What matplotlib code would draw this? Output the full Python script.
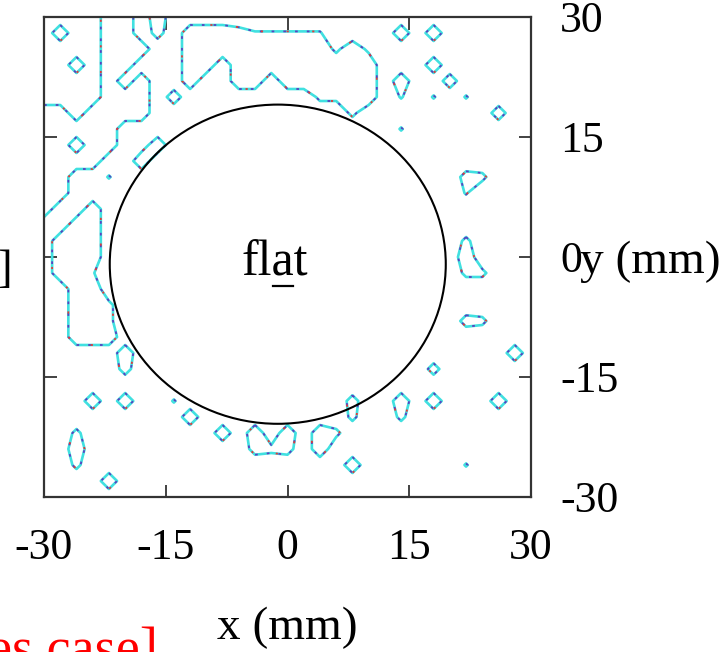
import numpy as np
import matplotlib
matplotlib.use("Agg")
import matplotlib.pyplot as plt
from matplotlib.patches import Ellipse
from matplotlib.lines import Line2D

plt.rcParams['font.family'] = ['Liberation Serif', 'DejaVu Serif']

# ---- data -------------------------------------------------------------
TICKS = [-30, -15, 0, 15, 30]
TICK_LABELS = ['-30', '-15', '0', '15', '30']
GRID_X = np.arange(-30, 31, 2)        # mm, columns
GRID_Y = np.arange(30, -31, -2)       # mm, rows (top row first)
LEVEL = 4.5
# field, one string per row (top = y 30 mm), '.' = 0
FIELD_ROWS = [
    "....99.9",
    ".9..99.7.999755555....9.9",
    "....999..999999999393",
    "..9.99...99.999999999...9",
    "....9.9..9..99.999999.9..8",
    "....999.8........6699.5.5.5",
    "99.9999............6........8",
    "99999.................5",
    "99.99.19",
    "9999..9",
    "99..5.....................76",
    "99........................5",
    "9..9",
    "..99",
    ".999......................6",
    ".999......................9",
    ".995......................66",
    "..99",
    "..996",
    "..996.....................76",
    "..999",
    ".....9.......................9",
    ".....7..................7",
    "",
    "...9.9..5..........7..9.9...9",
    ".........9.........6..6",
    "..6........9.9.9.96",
    "..9..........767.9",
    "..6................9......5",
    "....9",
    "",
]
CIRCLE_CENTER = (-1.2, -0.9)   # mm
CIRCLE_W = 41.4                # mm
CIRCLE_H = 39.9                # mm
X_LABEL = "x (mm)"
Y_LABEL = "y (mm)"
INNER_TEXT = "flat"
LEFT_TEXT = "]"
RED_TEXT = "es case]"

# ---- build field ------------------------------------------------------
Z = np.array([[0 if c == '.' else int(c) for c in r.ljust(31, '.')[:31]]
              for r in FIELD_ROWS], dtype=float)
X, Y = np.meshgrid(GRID_X, GRID_Y)

W, H = 723, 652
fig = plt.figure(figsize=(W / 100, H / 100), dpi=100)
ax = fig.add_axes([44 / W, 1 - 497 / H, (531 - 44) / W, (497 - 17) / H])

ax.contour(X, Y, Z, levels=[LEVEL], colors='#40e0e0', linewidths=1.9)
ax.contour(X, Y, Z, levels=[LEVEL], colors='#5a40c0', linewidths=1.3,
           linestyles=[(0, (1.5, 5))])
ax.contour(X, Y, Z, levels=[LEVEL], colors='#e03a3a', linewidths=1.3,
           linestyles=[(3, (1.2, 13))])

ax.add_patch(Ellipse(CIRCLE_CENTER, CIRCLE_W, CIRCLE_H, facecolor='none',
                     edgecolor='black', linewidth=1.5, zorder=5))

ax.set_xlim(-30, 30)
ax.set_ylim(-30, 30)
ax.set_xticks(TICKS)
ax.set_xticklabels(TICK_LABELS)
ax.set_yticks(TICKS)
ax.set_yticklabels(TICK_LABELS)
ax.tick_params(axis='both', direction='in', length=9, width=1.3,
               color='#333333', labelsize=31.5, top=True, right=True,
               left=True, bottom=True)
ax.tick_params(axis='y', labelleft=False, labelright=True, pad=21)
ax.tick_params(axis='x', pad=22)
for s in ax.spines.values():
    s.set_linewidth(1.6)
    s.set_color('#333333')

ax.set_xlabel(X_LABEL, fontsize=34, labelpad=28)
ax.text(1.10, 0, Y_LABEL, transform=ax.get_yaxis_transform(),
        fontsize=34, ha='left', va='center_baseline')

# text inside the circle, with the "a" underlined
t = ax.text(-1.6, -2.25, INNER_TEXT, fontsize=36, ha='center', va='baseline',
            zorder=6)
fig.canvas.draw()
r = fig.canvas.get_renderer()
bb = t.get_window_extent(renderer=r)
w_fl, _, _ = r.get_text_width_height_descent(INNER_TEXT[:2], t.get_fontproperties(), ismath=False)
w_fla, _, _ = r.get_text_width_height_descent(INNER_TEXT[:3], t.get_fontproperties(), ismath=False)
base = ax.transData.transform((0, -2.25))[1]
uy = base - 11
fig.add_artist(Line2D([bb.x0 + w_fl + 1, bb.x0 + w_fla - 1], [uy, uy],
                      transform=None, color='black', linewidth=1.6))

fig.text(12 / W, 1 - 282 / H, LEFT_TEXT, fontsize=34, ha='right', va='baseline')
fig.text(158 / W, 1 - 665 / H, RED_TEXT, fontsize=39, color='red',
         ha='right', va='baseline')

fig.savefig('out.png', dpi=100)
